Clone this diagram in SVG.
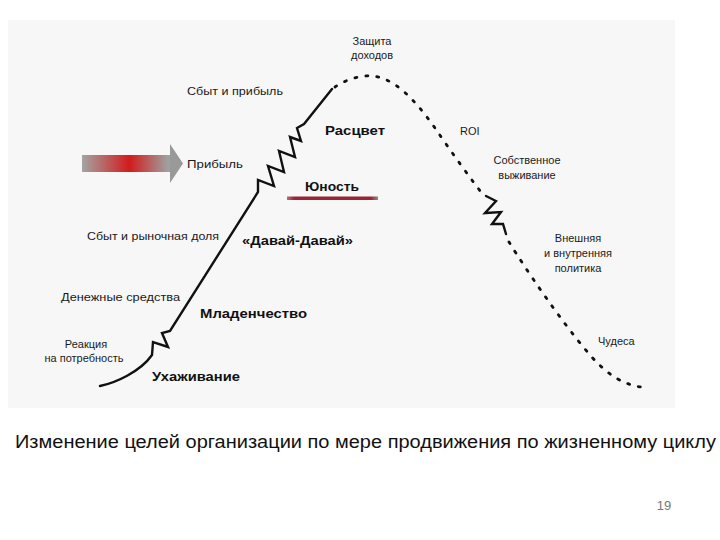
<svg xmlns="http://www.w3.org/2000/svg" width="720" height="540" viewBox="0 0 720 540">
<defs>
<style>
.lbl{font-family:"Liberation Sans",Arial,sans-serif;font-size:11px;fill:#1a1a1a}
.b{font-family:"Liberation Sans",Arial,sans-serif;font-size:12.5px;font-weight:bold;fill:#111}
.solid{fill:none;stroke:#111;stroke-width:2.4;stroke-linejoin:miter;stroke-linecap:round}
.dot{fill:none;stroke:#111;stroke-width:2.8;stroke-dasharray:2 9;stroke-linecap:round}
</style>
<linearGradient id="ag" x1="82" y1="0" x2="183" y2="0" gradientUnits="userSpaceOnUse">
<stop offset="0" stop-color="#a4a4a4"/>
<stop offset="0.47" stop-color="#d21c1c"/>
<stop offset="0.85" stop-color="#a0a0a0"/>
<stop offset="1" stop-color="#999"/>
</linearGradient>
<linearGradient id="rg" x1="287" y1="0" x2="378" y2="0" gradientUnits="userSpaceOnUse">
<stop offset="0" stop-color="#b07078"/>
<stop offset="0.08" stop-color="#9a2434"/>
<stop offset="0.92" stop-color="#9a2434"/>
<stop offset="1" stop-color="#8a8a8a"/>
</linearGradient>
</defs>
<rect x="0" y="0" width="720" height="540" fill="#ffffff"/>
<rect x="8" y="20" width="667" height="388" fill="#f7f7f7"/>

<g id="connectors">
<path class="solid" d="M100,386 C115,383 140,372 152,355 L153,342 L168,347 L162,333 L170,331 L258,192 L258,180 L274,186 L268,166 L284,172 L279,151 L295,157 L290,137 L301,141 L297,128 L304,124 L332,89"/>
<path class="dot" d="M335,87 C345,80 360,75 372,76 C395,78 415,100 435,128 C450,150 470,178 484,196"/>
<path class="solid" d="M486,196 L496,201 L485,213 L501,212 L492,224 L503,224 L506,234"/>
<path class="dot" d="M509,242 C525,268 560,320 590,355 C605,372 620,384 641,387"/>
</g>

<g id="arrow">
<rect x="82" y="155" width="89" height="17" fill="url(#ag)"/>
<polygon points="170,144 183,163.5 170,183" fill="#999"/>
</g>

<g id="youth-line">
<rect x="287" y="196.5" width="91" height="3.5" fill="url(#rg)"/>
</g>

<g id="labels">
<text class="lbl" x="372" y="45" text-anchor="middle">Защита</text>
<text class="lbl" x="372" y="59" text-anchor="middle">доходов</text>
<text class="lbl" x="187" y="95" textLength="96" lengthAdjust="spacingAndGlyphs">Сбыт и прибыль</text>
<text class="b" x="325" y="135" textLength="60" lengthAdjust="spacingAndGlyphs">Расцвет</text>
<text class="lbl" x="460" y="135">ROI</text>
<text class="lbl" x="187" y="168" textLength="56" lengthAdjust="spacingAndGlyphs">Прибыль</text>
<text class="lbl" x="527" y="164" text-anchor="middle">Собственное</text>
<text class="lbl" x="527" y="179" text-anchor="middle">выживание</text>
<text class="b" x="305" y="191" textLength="54" lengthAdjust="spacingAndGlyphs">Юность</text>
<text class="lbl" x="87" y="240" textLength="132" lengthAdjust="spacingAndGlyphs">Сбыт и рыночная доля</text>
<text class="b" x="242" y="245" textLength="111" lengthAdjust="spacingAndGlyphs">«Давай-Давай»</text>
<text class="lbl" x="578" y="242" text-anchor="middle">Внешняя</text>
<text class="lbl" x="578" y="257" text-anchor="middle">и внутренняя</text>
<text class="lbl" x="578" y="272" text-anchor="middle">политика</text>
<text class="lbl" x="61" y="301" textLength="119" lengthAdjust="spacingAndGlyphs">Денежные средства</text>
<text class="b" x="200" y="318" textLength="107" lengthAdjust="spacingAndGlyphs">Младенчество</text>
<text class="lbl" x="86" y="348" text-anchor="middle">Реакция</text>
<text class="lbl" x="84" y="362" text-anchor="middle">на потребность</text>
<text class="b" x="152" y="381" textLength="88" lengthAdjust="spacingAndGlyphs">Ухаживание</text>
<text class="lbl" x="598" y="345">Чудеса</text>
</g>

<text x="15" y="448" font-family="'Liberation Sans',Arial,sans-serif" font-size="17.5" fill="#111" textLength="701" lengthAdjust="spacingAndGlyphs">Изменение целей организации по мере продвижения по жизненному циклу</text>
<text x="664" y="510" text-anchor="middle" font-family="'Liberation Sans',Arial,sans-serif" font-size="13" fill="#777">19</text>
</svg>
